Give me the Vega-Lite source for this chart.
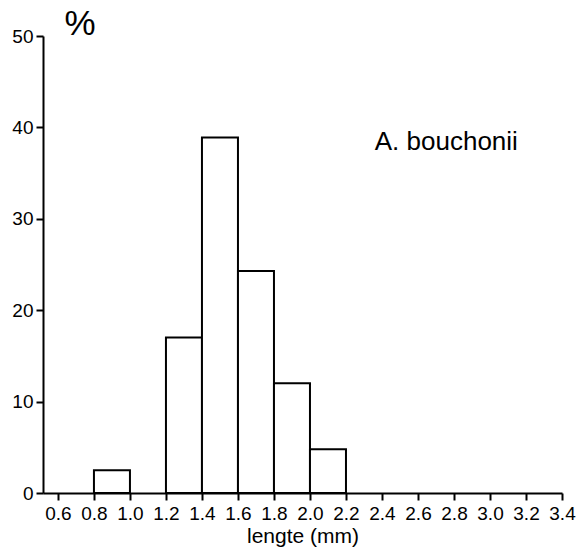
{
  "$schema": "https://vega.github.io/schema/vega-lite/v6.json",
  "autosize": "none",
  "width": 519,
  "height": 457,
  "padding": {"left": 43, "top": 36, "right": 14, "bottom": 60},
  "background": "white",
  "config": {
    "view": {"stroke": null},
    "font": "Liberation Sans",
    "axisX": {
      "format": ".1f",
      "grid": false,
      "domainColor": "black",
      "domainWidth": 2,
      "tickColor": "black",
      "tickWidth": 2,
      "tickSize": 7,
      "labelColor": "black",
      "labelFontSize": 19,
      "labelFont": "Liberation Sans",
      "labelOverlap": false,
      "labelSeparation": 0,
      "labelPadding": 4,
      "labelFlush": false,
      "titleColor": "black",
      "titleFont": "Liberation Sans",
      "titleFontWeight": "normal",
      "titleFontSize": 21,
      "titlePadding": 2
    },
    "axisY": {
      "grid": false,
      "domainColor": "black",
      "domainWidth": 2,
      "tickColor": "black",
      "tickWidth": 2,
      "tickSize": 7,
      "labelColor": "black",
      "labelFontSize": 19,
      "labelFont": "Liberation Sans",
      "labelOverlap": false,
      "labelPadding": 3,
      "labelFlush": false,
      "titleColor": "black",
      "titleFont": "Liberation Sans",
      "titleFontWeight": "normal",
      "titleAngle": 0,
      "titleFontSize": 35,
      "titleX": 21,
      "titleY": -2,
      "titleAlign": "left",
      "titleBaseline": "alphabetic"
    }
  },
  "layer": [
    {
      "data": {
        "values": [
          {"start": 0.8, "end": 1.0, "pct": 2.5},
          {"start": 1.2, "end": 1.4, "pct": 17.0},
          {"start": 1.4, "end": 1.6, "pct": 38.9},
          {"start": 1.6, "end": 1.8, "pct": 24.3},
          {"start": 1.8, "end": 2.0, "pct": 12.0},
          {"start": 2.0, "end": 2.2, "pct": 4.8}
        ]
      },
      "mark": {"type": "rect", "fill": "white", "stroke": "black", "strokeWidth": 2},
      "encoding": {
        "x": {
          "field": "start",
          "type": "quantitative",
          "scale": {"domain": [0.517, 3.4], "nice": false, "zero": false},
          "axis": {"title": "lengte (mm)", "labelOverlap": false, "labelFontSize": 19, "labelPadding": 4, "format": ".1f", "values": [0.6, 0.8, 1.0, 1.2, 1.4, 1.6, 1.8, 2.0, 2.2, 2.4, 2.6, 2.8, 3.0, 3.2, 3.4]}
        },
        "x2": {"field": "end"},
        "y": {
          "field": "pct",
          "type": "quantitative",
          "scale": {"domain": [0, 50], "nice": false},
          "axis": {"title": "%", "labelOverlap": false, "labelFontSize": 19, "labelPadding": 3, "values": [0, 10, 20, 30, 40, 50]}
        },
        "y2": {"datum": 0}
      }
    },
    {
      "data": {"values": [{"name": "A. bouchonii"}]},
      "mark": {"type": "text", "align": "left", "baseline": "alphabetic", "fontSize": 26, "font": "Liberation Sans", "color": "black"},
      "encoding": {
        "x": {"datum": 2.36, "type": "quantitative", "axis": {"title": "lengte (mm)", "labelOverlap": false, "labelFontSize": 19, "labelPadding": 4, "format": ".1f", "values": [0.6, 0.8, 1.0, 1.2, 1.4, 1.6, 1.8, 2.0, 2.2, 2.4, 2.6, 2.8, 3.0, 3.2, 3.4]}},
        "y": {"datum": 37.5, "type": "quantitative", "axis": {"title": "%", "labelOverlap": false, "labelFontSize": 19, "labelPadding": 3, "values": [0, 10, 20, 30, 40, 50]}},
        "text": {"field": "name"}
      }
    }
  ]
}
